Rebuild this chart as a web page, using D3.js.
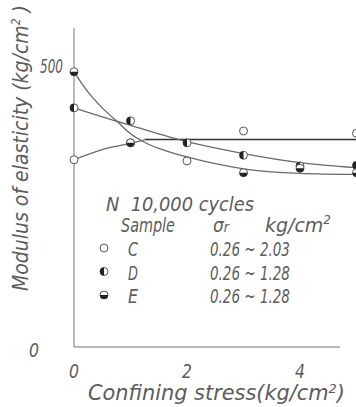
<!DOCTYPE html>
<html>
<head>
<meta charset="utf-8">
<script src="https://cdn.jsdelivr.net/npm/d3@7"></script>
<style>
  body { margin: 0; background: #fff; }
  svg { display: block; font-family: 'DejaVu Sans', sans-serif; font-style: italic; }
</style>
</head>
<body>
<div id="chart"></div>
<script>
// confining stress positions (kg/cm2)
const stress = [0, 1, 2, 3, 4, 5];
// measured modulus of elasticity (kg/cm2), null = no marker
const sampleC = [332, 362, 330, 383, null, 379];
const sampleD = [424, 401, 362, 340, 321, 322];
const sampleE = [488, 362, null, 309, 317, 309];

// hand-drawn fitted curves [stress, modulus]
const fitC = [[0, 332], [0.5, 350], [1, 361], [1.25, 367]];
const flatC = [[1.25, 368], [5, 368]];
const fitD = [[0, 424], [0.5, 408], [1, 393], [2, 364], [3, 343], [4, 327], [5, 318]];
const fitE = [[0, 488], [0.25, 452], [0.5, 424], [0.75, 401], [1, 378], [1.25, 363], [1.5, 352], [2, 337], [3, 316], [4, 308], [5, 306]];

const xTicks = [0, 2, 4];
const yTicks = [0, 500];

const legendRows = [
  { key: 'C', label: 'C', range: '0.26 ~ 2.03' },
  { key: 'D', label: 'D', range: '0.26 ~ 1.28' },
  { key: 'E', label: 'E', range: '0.26 ~ 1.28' }
];

const W = 356, H = 407;
const svg = d3.select('#chart').append('svg').attr('width', W).attr('height', H);

const x = d3.scaleLinear().domain([0, 5]).range([74, 356.5]);
const y = d3.scaleLinear().domain([0, 500]).range([347, 65]);

const ink = '#5c5c5c';
const curveInk = '#6a6a6a';

// narrow lettering: draw text, then squeeze it horizontally to the wanted width
function label(g, px, py, html, size, width, rot) {
  const t = g.append('g');
  const txt = t.append('text').style('font-size', size + 'px').style('fill', ink).html(html);
  const len = txt.node().getComputedTextLength();
  const sx = width / len;
  t.attr('transform', `translate(${px},${py}) rotate(${rot || 0}) scale(${sx},1)`);
  return t;
}

// axes lines
svg.append('line').attr('x1', x(0)).attr('x2', x(0)).attr('y1', 28).attr('y2', y(0))
  .attr('stroke', '#777').attr('stroke-width', 1);
svg.append('line').attr('x1', x(0)).attr('x2', 340).attr('y1', y(0)).attr('y2', y(0))
  .attr('stroke', '#777').attr('stroke-width', 1);

// tick labels
xTicks.forEach(d => label(svg, x(d) - 5, 378, String(d), 20, 10));
label(svg, 40, y(500) + 8, String(yTicks[1]), 20, 23);
label(svg, 29, y(0) + 10, String(yTicks[0]), 20, 10);

// axis titles
label(svg, 28, 291, 'Modulus of elasticity (kg/cm<tspan dy="-8" font-size="12">2</tspan><tspan dy="8"> )</tspan>', 21, 286, -90);
label(svg, 88, 400, 'Confining stress(kg/cm<tspan dy="-7" font-size="13">2</tspan><tspan dy="7">)</tspan>', 21, 257);

// curves
const line = d3.line().x(d => x(d[0])).y(d => y(d[1])).curve(d3.curveMonotoneX);
const curveG = svg.append('g').attr('fill', 'none');
curveG.append('path').datum(fitC).attr('d', line).attr('stroke', curveInk).attr('stroke-width', 1.3);
curveG.append('path').datum(flatC).attr('d', line).attr('stroke', '#333').attr('stroke-width', 1.4);
curveG.append('path').datum(fitD).attr('d', line).attr('stroke', curveInk).attr('stroke-width', 1.3);
curveG.append('path').datum(fitE).attr('d', line).attr('stroke', curveInk).attr('stroke-width', 1.3);

// markers
const halfArc = {
  D: d3.arc().innerRadius(0).outerRadius(4).startAngle(Math.PI).endAngle(2 * Math.PI),
  E: d3.arc().innerRadius(0).outerRadius(4).startAngle(Math.PI / 2).endAngle(1.5 * Math.PI)
};
function marker(g, key, cx, cy) {
  const m = g.append('g').attr('transform', `translate(${cx},${cy})`);
  m.append('circle').attr('r', 4).attr('fill', '#fff').attr('stroke', '#555').attr('stroke-width', 1);
  if (halfArc[key]) m.append('path').attr('d', halfArc[key]()).attr('fill', '#222');
}
const markG = svg.append('g');
[['C', sampleC], ['D', sampleD], ['E', sampleE]].forEach(([key, vals]) => {
  vals.forEach((v, i) => {
    if (v === null) return;
    marker(markG, key, x(stress[i]), y(v));
  });
});

// legend
const lg = svg.append('g');
label(lg, 106, 211, 'N&#160;&#160;10,000 cycles', 20, 148);
label(lg, 121, 232, 'Sample', 19, 54);
label(lg, 213, 232, 'σ<tspan font-size="14">r</tspan>', 19, 16);
label(lg, 265, 232, 'kg/cm<tspan dy="-8" font-size="12">2</tspan>', 19, 66);
legendRows.forEach((r, i) => {
  const ry = 248 + i * 23.5;
  marker(lg, r.key, 104, ry);
  label(lg, 128, ry + 8, r.label, 20, 10);
  label(lg, 210, ry + 8, r.range, 19, 80);
});
</script>
</body>
</html>
